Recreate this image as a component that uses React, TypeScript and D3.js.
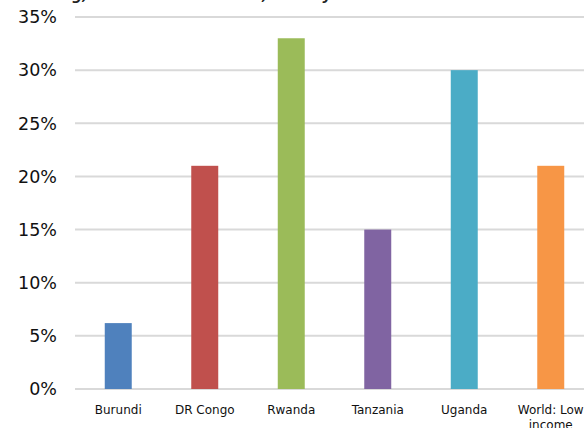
import React from "react";
import * as d3 from "d3";

const categories = ["Burundi", "DR Congo", "Rwanda", "Tanzania", "Uganda", "World: Low income"];
const values = [6.2, 21, 33, 15, 30, 21];
const colors = ["#4F81BD", "#C0504D", "#9BBB59", "#8064A2", "#4BACC6", "#F79646"];
const yTicks = [0, 5, 10, 15, 20, 25, 30, 35];
const title = "Stunting, % of children under 5, latest year available";

const W = 584;
const H = 428;
const margin = { left: 75, right: -10, top: 17, bottom: 39 };
const FONT = "'DejaVu Sans', Verdana, sans-serif";

export default function App() {
  const x = d3
    .scaleBand<string>()
    .domain(categories)
    .range([margin.left, W - margin.right])
    .paddingInner(0.688)
    .paddingOuter(0.344);
  const y = d3.scaleLinear().domain([0, 35]).range([H - margin.bottom, margin.top]);

  const wrap = (s: string) => {
    if (s.length <= 12) return [s];
    const i = s.lastIndexOf(" ");
    return [s.slice(0, i), s.slice(i + 1)];
  };

  return (
    <svg
      width={W}
      height={H}
      style={{ position: "absolute", left: 0, top: 0, background: "#fff" }}
      fontFamily={FONT}
    >
      <text x={14} y={-0.5} fontSize={14} fontStyle="italic" fontWeight="bold" fill="#222">
        {title}
      </text>
      {yTicks.map((t) => (
        <g key={t}>
          <line x1={margin.left} x2={W} y1={y(t)} y2={y(t)} stroke="#D9D9D9" strokeWidth={2} />
          <text x={57} y={y(t)} dy="0.36em" textAnchor="end" fontSize={17.5} fill="#111">
            {t}%
          </text>
        </g>
      ))}
      {categories.map((c, i) => (
        <rect
          key={c}
          x={x(c)}
          y={y(values[i])}
          width={x.bandwidth()}
          height={y(0) - y(values[i])}
          fill={colors[i]}
        />
      ))}
      {categories.map((c) => (
        <text key={c} x={(x(c) ?? 0) + x.bandwidth() / 2} y={413.5} textAnchor="middle" fontSize={12} fill="#111">
          {wrap(c).map((line, j) => (
            <tspan key={j} x={(x(c) ?? 0) + x.bandwidth() / 2} dy={j === 0 ? 0 : 15}>
              {line}
            </tspan>
          ))}
        </text>
      ))}
    </svg>
  );
}
